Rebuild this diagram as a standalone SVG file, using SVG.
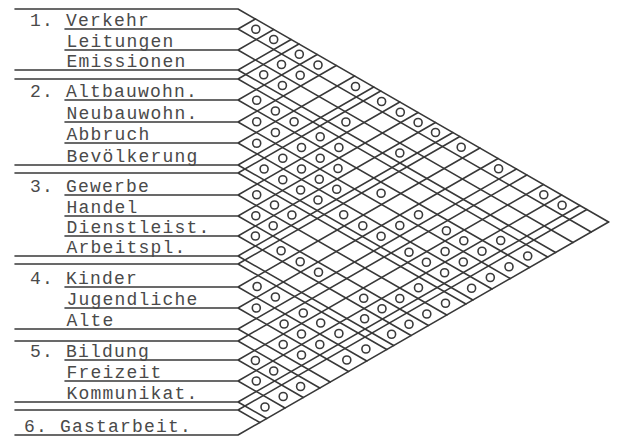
<svg xmlns="http://www.w3.org/2000/svg" width="619" height="438" viewBox="0 0 619 438">
<style>
.ln{fill:none;stroke:#383838;stroke-width:1.6;stroke-linecap:round;stroke-linejoin:round}
.o{fill:none;stroke:#3a3a3a;stroke-width:1.6}
.t{font-family:"Liberation Mono","DejaVu Sans Mono",monospace;font-size:18px;letter-spacing:1.2px;fill:#4a4a4a}
</style>
<rect width="619" height="438" fill="#fff"/>
<g id="connectors" class="ln">
<path d="M15 9H238L608.6 222"/>
<path d="M65 29H238L591.2 232M238 29L255.4 19"/>
<path d="M65 50H238L573 242.5M238 50L273.7 29.5"/>
<path d="M15 70H238L555.6 252.5M238 70L291.1 39.5"/>
<path d="M15 79H238L547.7 257M238 79L298.9 44"/>
<path d="M65 100H238L529.5 267.5M238 100L317.2 54.5"/>
<path d="M65 122H238L510.3 278.5M238 122L336.3 65.5"/>
<path d="M65 143H238L492 289M238 143L354.6 76"/>
<path d="M15 165H238L472.9 300M238 165L373.7 87"/>
<path d="M15 173H238L465.9 304M238 173L380.7 91"/>
<path d="M65 195H238L446.8 315M238 195L399.8 102"/>
<path d="M65 216H238L428.5 325.5M238 216L418.1 112.5"/>
<path d="M65 236H238L411.1 335.5M238 236L435.5 122.5"/>
<path d="M15 256H238L393.7 345.5M238 256L452.9 132.5"/>
<path d="M15 264H238L386.8 349.5M238 264L459.9 136.5"/>
<path d="M65 287H238L366.8 361M238 287L479.9 148"/>
<path d="M65 308H238L348.5 371.5M238 308L498.1 158.5"/>
<path d="M15 329H238L330.2 382M238 329L516.4 169"/>
<path d="M15 341H238L319.8 388M238 341L526.8 175"/>
<path d="M65 360H238L303.3 397.5M238 360L543.4 184.5"/>
<path d="M65 381H238L285 408M238 381L561.6 195"/>
<path d="M15 402H238L266.7 418.5M238 402L579.9 205.5"/>
<path d="M15 410H238L259.8 422.5M238 410L586.9 209.5"/>
<path d="M15 435H238L608.6 222"/>
</g>
<g id="labels" class="t">
<text id="n1" x="30" y="25.5">1. Verkehr</text>
<text id="n2" x="66.5" y="46.5">Leitungen</text>
<text id="n3" x="66.5" y="66.5">Emissionen</text>
<text id="n4" x="30" y="96.5">2. Altbauwohn.</text>
<text id="n5" x="66.5" y="118.5">Neubauwohn.</text>
<text id="n6" x="66.5" y="139.5">Abbruch</text>
<text id="n7" x="66.5" y="161.5">Bevölkerung</text>
<text id="n8" x="30" y="191.5">3. Gewerbe</text>
<text id="n9" x="66.5" y="212.5">Handel</text>
<text id="n10" x="66.5" y="232.5">Dienstleist.</text>
<text id="n11" x="66.5" y="252.5">Arbeitspl.</text>
<text id="n12" x="30" y="283.5">4. Kinder</text>
<text id="n13" x="66.5" y="304.5">Jugendliche</text>
<text id="n14" x="66.5" y="325.5">Alte</text>
<text id="n15" x="30" y="356.5">5. Bildung</text>
<text id="n16" x="66.5" y="377.5">Freizeit</text>
<text id="n17" x="66.5" y="398.5">Kommunikat.</text>
<text id="n18" x="24" y="431.5">6. Gastarbeit.</text>
</g>
<g id="marks" class="o">
<circle cx="255.8" cy="29.25" r="4"/>
<circle cx="273.7" cy="39.5" r="4"/>
<circle cx="299.3" cy="54.25" r="4"/>
<circle cx="318" cy="65" r="4"/>
<circle cx="355.5" cy="86.5" r="4"/>
<circle cx="381.6" cy="101.5" r="4"/>
<circle cx="400.3" cy="112.25" r="4"/>
<circle cx="418.1" cy="122.5" r="4"/>
<circle cx="435.5" cy="132.5" r="4"/>
<circle cx="461.2" cy="147.25" r="4"/>
<circle cx="498.6" cy="168.75" r="4"/>
<circle cx="543.8" cy="194.75" r="4"/>
<circle cx="562.1" cy="205.25" r="4"/>
<circle cx="281.5" cy="64.5" r="4"/>
<circle cx="300.2" cy="75.25" r="4"/>
<circle cx="263.7" cy="74.75" r="4"/>
<circle cx="282.4" cy="85.5" r="4"/>
<circle cx="345.9" cy="122" r="4"/>
<circle cx="399.8" cy="153" r="4"/>
<circle cx="256.7" cy="100.25" r="4"/>
<circle cx="275.4" cy="111" r="4"/>
<circle cx="294.1" cy="121.75" r="4"/>
<circle cx="320.2" cy="136.75" r="4"/>
<circle cx="338.9" cy="147.5" r="4"/>
<circle cx="500.7" cy="240.5" r="4"/>
<circle cx="527.7" cy="256" r="4"/>
<circle cx="256.7" cy="121.75" r="4"/>
<circle cx="275.4" cy="132.5" r="4"/>
<circle cx="301.5" cy="147.5" r="4"/>
<circle cx="320.2" cy="158.25" r="4"/>
<circle cx="338" cy="168.5" r="4"/>
<circle cx="381.1" cy="193.25" r="4"/>
<circle cx="418.5" cy="214.75" r="4"/>
<circle cx="446.4" cy="230.75" r="4"/>
<circle cx="463.8" cy="240.75" r="4"/>
<circle cx="482" cy="251.25" r="4"/>
<circle cx="509" cy="266.75" r="4"/>
<circle cx="256.7" cy="143.25" r="4"/>
<circle cx="282.8" cy="158.25" r="4"/>
<circle cx="301.5" cy="169" r="4"/>
<circle cx="319.3" cy="179.25" r="4"/>
<circle cx="336.7" cy="189.25" r="4"/>
<circle cx="399.8" cy="225.5" r="4"/>
<circle cx="445.1" cy="251.5" r="4"/>
<circle cx="463.3" cy="262" r="4"/>
<circle cx="490.3" cy="277.5" r="4"/>
<circle cx="264.1" cy="169" r="4"/>
<circle cx="282.8" cy="179.75" r="4"/>
<circle cx="300.6" cy="190" r="4"/>
<circle cx="318" cy="200" r="4"/>
<circle cx="343.7" cy="214.75" r="4"/>
<circle cx="362.8" cy="225.75" r="4"/>
<circle cx="381.1" cy="236.25" r="4"/>
<circle cx="409" cy="252.25" r="4"/>
<circle cx="426.4" cy="262.25" r="4"/>
<circle cx="444.6" cy="272.75" r="4"/>
<circle cx="471.6" cy="288.25" r="4"/>
<circle cx="256.7" cy="194.75" r="4"/>
<circle cx="274.5" cy="205" r="4"/>
<circle cx="291.9" cy="215" r="4"/>
<circle cx="418.5" cy="287.75" r="4"/>
<circle cx="445.5" cy="303.25" r="4"/>
<circle cx="255.8" cy="215.75" r="4"/>
<circle cx="273.2" cy="225.75" r="4"/>
<circle cx="399.8" cy="298.5" r="4"/>
<circle cx="426.8" cy="314" r="4"/>
<circle cx="255.4" cy="236" r="4"/>
<circle cx="281.1" cy="250.75" r="4"/>
<circle cx="300.2" cy="261.75" r="4"/>
<circle cx="318.5" cy="272.25" r="4"/>
<circle cx="363.7" cy="298.25" r="4"/>
<circle cx="382" cy="308.75" r="4"/>
<circle cx="409" cy="324.25" r="4"/>
<circle cx="364.6" cy="318.75" r="4"/>
<circle cx="391.6" cy="334.25" r="4"/>
<circle cx="257.1" cy="286.5" r="4"/>
<circle cx="275.4" cy="297" r="4"/>
<circle cx="303.3" cy="313" r="4"/>
<circle cx="320.7" cy="323" r="4"/>
<circle cx="338.9" cy="333.5" r="4"/>
<circle cx="365.9" cy="349" r="4"/>
<circle cx="256.3" cy="308" r="4"/>
<circle cx="284.1" cy="324" r="4"/>
<circle cx="301.5" cy="334" r="4"/>
<circle cx="319.8" cy="344.5" r="4"/>
<circle cx="346.8" cy="360" r="4"/>
<circle cx="283.2" cy="344.5" r="4"/>
<circle cx="301.5" cy="355" r="4"/>
<circle cx="255.4" cy="360.5" r="4"/>
<circle cx="273.7" cy="371" r="4"/>
<circle cx="300.6" cy="386.5" r="4"/>
<circle cx="256.3" cy="381" r="4"/>
<circle cx="283.2" cy="396.5" r="4"/>
<circle cx="265" cy="407" r="4"/>
</g>
</svg>
